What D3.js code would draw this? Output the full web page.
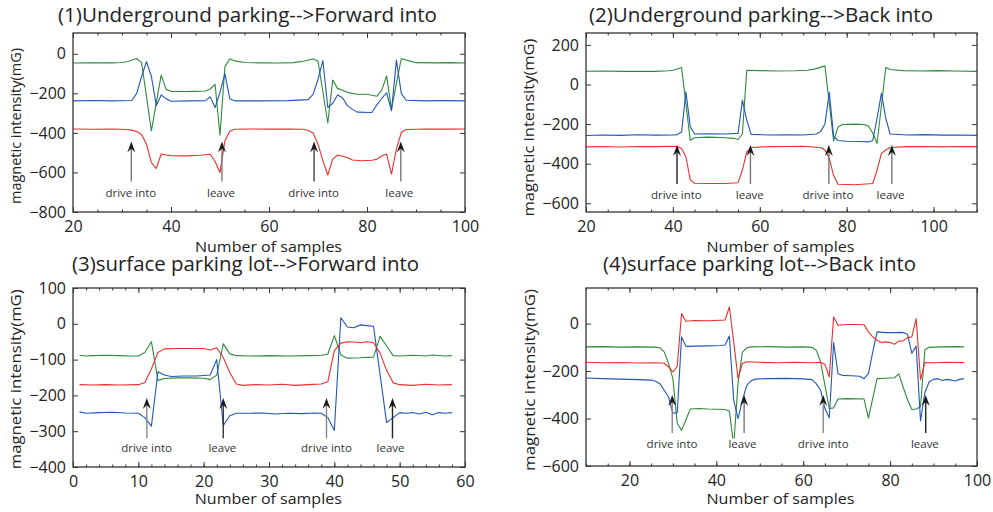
<!DOCTYPE html>
<html>
<head>
<meta charset="utf-8">
<script src="https://cdn.jsdelivr.net/npm/d3@7"></script>
<style>
body { margin: 0; background: #fff; }
text { font-family: "Open Sans", "Noto Sans", sans-serif; fill: #222; }
</style>
</head>
<body>
<div id="viz"></div>
<script>

// ---- data (sample index, magnetic intensity in mG) ----

// (1) underground, forward into
var p1Green = [[20,-47],[24,-46],[28,-46],[30,-44],[31,-40],[32,-33],[33,-24],[34,-45],[36,-390],[37,-247],[38,-108],[39,-180],[40,-190],[43,-191],[45,-190],[47,-188],[48,-178],[49,-155],[50,-412],[51,-65],[52,-25],[53,-36],[55,-44],[58,-46],[62,-47],[65,-45],[67,-38],[69,-26],[70,-37],[72,-350],[73,-133],[74,-175],[76,-195],[78,-205],[80,-205],[82,-215],[83,-185],[84,-112],[85,-280],[86,-150],[87,-24],[88,-32],[90,-45],[94,-46],[97,-45],[100,-47]];
var p1Blue = [[20,-238],[24,-236],[28,-238],[32,-236],[33,-200],[34,-115],[35,-40],[36,-115],[37,-262],[38,-208],[39,-228],[40,-240],[44,-238],[47,-237],[48,-218],[49,-272],[50,-195],[51,-100],[52,-228],[53,-238],[58,-238],[64,-237],[68,-232],[69,-205],[70,-130],[71,-35],[72,-272],[73,-250],[74,-208],[75,-222],[76,-262],[77,-280],[78,-295],[81,-297],[82,-258],[83,-226],[84,-197],[85,-288],[86,-32],[87,-200],[88,-235],[92,-238],[96,-237],[100,-238]];
var p1Red = [[20,-380],[24,-382],[28,-380],[31,-383],[32,-386],[33,-393],[34,-408],[35,-457],[36,-550],[37,-580],[38,-507],[39,-512],[40,-515],[43,-516],[46,-513],[48,-508],[49,-545],[50,-600],[51,-440],[52,-392],[53,-382],[56,-380],[60,-381],[64,-380],[67,-382],[68,-388],[69,-400],[70,-457],[71,-540],[72,-613],[73,-533],[74,-512],[76,-524],[77,-537],[79,-541],[81,-538],[82,-533],[83,-517],[84,-507],[85,-608],[86,-482],[87,-398],[88,-383],[92,-380],[96,-381],[100,-380]];
var p1ArrowX = [31.9, 50.4, 69.2, 86.9];
var p1LabelX = [31.8, 50.2, 69.1, 86.6];

// (2) underground, back into
var p2Green = [[20,67],[24,68],[28,66],[32,67],[36,66],[39,69],[40,72],[41,78],[42,86],[44,-282],[45,-269],[48,-266],[51,-268],[54,-272],[55,-278],[56,-250],[57,72],[60,70],[64,68],[68,69],[71,72],[73,80],[75,94],[77,-285],[78,-215],[79,-202],[82,-200],[84,-202],[85,-210],[86,-245],[87,-298],[89,86],[90,76],[93,70],[97,68],[101,70],[105,68],[110,66]];
var p2Blue = [[20,-258],[24,-255],[28,-257],[32,-254],[36,-256],[40,-255],[41,-253],[42,-240],[43,-37],[44,-213],[45,-250],[48,-249],[52,-250],[55,-247],[56,-79],[57,-180],[58,-252],[62,-255],[66,-254],[70,-255],[73,-250],[74,-238],[75,-200],[76,-40],[77,-262],[78,-283],[80,-287],[83,-288],[85,-290],[86,-283],[87,-170],[88,-45],[89,-170],[90,-250],[94,-255],[98,-253],[102,-256],[106,-255],[110,-257]];
var p2Red = [[20,-315],[24,-313],[28,-316],[32,-313],[36,-314],[40,-312],[41,-313],[42,-323],[43,-365],[44,-482],[45,-499],[48,-500],[52,-500],[55,-496],[56,-432],[57,-340],[58,-318],[62,-314],[66,-313],[70,-312],[74,-318],[75,-331],[76,-373],[77,-460],[78,-504],[82,-506],[86,-500],[87,-432],[88,-348],[89,-331],[90,-318],[94,-314],[98,-313],[102,-315],[106,-313],[110,-314]];
var p2ArrowX = [40.95, 57.85, 75.9, 90.4];
var p2LabelX = [40.8, 57.7, 75.7, 90.1];

// (3) surface lot, forward into
var p3Green = [[1,-88],[2,-90],[3,-89],[5,-88],[7,-89],[9,-90],[10,-90],[11,-80],[12,-50],[13,-158],[14,-153],[16,-151],[18,-151],[20,-152],[21,-156],[22,-143],[23,-56],[24,-84],[25,-89],[27,-90],[30,-89],[33,-90],[36,-89],[38,-88],[39,-85],[40,-33],[41,-87],[42,-96],[44,-95],[46,-93],[47,-35],[48,-62],[49,-89],[50,-90],[52,-88],[54,-90],[55,-87],[57,-90],[58,-89]];
var p3Blue = [[1,-246],[2,-250],[4,-248],[6,-247],[8,-249],[10,-250],[11,-262],[12,-286],[13,-134],[14,-143],[15,-147],[17,-146],[19,-146],[21,-143],[22,-100],[23,-284],[24,-257],[25,-250],[27,-250],[29,-249],[31,-252],[33,-250],[35,-251],[37,-249],[38,-250],[39,-262],[40,-298],[41,17],[42,-9],[43,-11],[44,-3],[45,-5],[46,-7],[48,-276],[49,-262],[50,-248],[51,-250],[52,-248],[53,-252],[54,-247],[55,-254],[56,-248],[57,-250],[58,-248]];
var p3Red = [[1,-170],[3,-171],[5,-170],[7,-171],[10,-170],[11,-164],[12,-126],[13,-80],[14,-70],[16,-69],[18,-69],[20,-69],[21,-73],[22,-67],[23,-94],[24,-136],[25,-168],[26,-172],[28,-170],[30,-171],[32,-169],[34,-172],[36,-170],[38,-168],[39,-162],[40,-75],[41,-54],[42,-50],[43,-51],[44,-53],[45,-50],[46,-53],[47,-82],[48,-130],[49,-165],[50,-170],[52,-172],[54,-169],[56,-171],[58,-170]];
var p3ArrowX = [11.3, 23.0, 38.8, 48.9];
var p3LabelX = [11.26, 22.86, 38.8, 48.6];

// (4) surface lot, back into
var p4Green = [[10,-98],[14,-97],[18,-99],[22,-98],[26,-99],[27,-102],[28,-119],[29,-168],[30,-232],[31,-420],[32,-450],[33,-405],[34,-360],[36,-358],[38,-360],[40,-361],[42,-362],[43,-368],[44,-515],[45,-250],[46,-120],[47,-102],[48,-98],[52,-97],[56,-99],[60,-98],[62,-100],[63,-112],[64,-161],[65,-260],[66,-358],[67,-355],[68,-318],[70,-316],[72,-317],[74,-318],[75,-398],[76,-315],[77,-232],[79,-230],[81,-228],[82,-212],[83,-268],[84,-320],[85,-362],[86,-360],[87,-350],[88,-110],[89,-100],[92,-98],[95,-97],[97,-98]];
var p4Blue = [[10,-229],[14,-232],[18,-234],[22,-236],[25,-238],[26,-243],[27,-253],[28,-281],[29,-309],[30,-378],[31,-375],[32,-56],[33,-96],[35,-95],[38,-94],[41,-92],[42,-90],[43,-52],[44,-323],[45,-400],[46,-323],[47,-260],[48,-241],[49,-234],[52,-232],[56,-231],[60,-233],[62,-236],[63,-253],[64,-281],[65,-358],[66,-397],[67,-80],[68,-211],[69,-218],[71,-220],[73,-222],[74,-232],[75,-211],[76,-120],[77,-35],[79,-38],[81,-38],[83,-37],[84,-45],[85,-125],[86,-95],[87,-410],[88,-290],[89,-245],[90,-235],[91,-232],[92,-240],[93,-235],[94,-238],[95,-242],[96,-235],[97,-232]];
var p4Red = [[10,-163],[14,-165],[18,-164],[22,-166],[26,-165],[28,-167],[29,-182],[30,-204],[31,-180],[32,42],[33,10],[35,13],[38,12],[41,14],[42,15],[43,70],[44,-77],[45,-232],[46,-168],[47,-161],[50,-163],[54,-165],[58,-163],[62,-165],[64,-163],[65,-172],[66,-225],[67,28],[68,-7],[70,-4],[72,-4],[74,-5],[75,-35],[76,-56],[77,-70],[78,-80],[79,-77],[80,-80],[81,-87],[82,-74],[83,-73],[84,-59],[85,-56],[86,21],[87,-236],[88,-164],[90,-165],[93,-163],[97,-164]];
var p4ArrowX = [29.85, 46.4, 64.6, 88.2];
var p4LabelX = [29.8, 46.0, 64.6, 88.0];

var eventLabels = ["drive into", "leave", "drive into", "leave"];

var p1XTicks = [20, 40, 60, 80, 100];
var p1YTicks = [-800, -600, -400, -200, 0];
var p2XTicks = [20, 40, 60, 80, 100];
var p2YTicks = [-600, -400, -200, 0, 200];
var p3XTicks = [0, 10, 20, 30, 40, 50, 60];
var p3YTicks = [-400, -300, -200, -100, 0, 100];
var p4XTicks = [20, 40, 60, 80, 100];
var p4YTicks = [-600, -400, -200, 0];

// ---- layout ----
var colors = { blue: "#2156b8", green: "#2f8a3c", red: "#e8302c" };

var panels = [
	{ title: "(1)Underground parking-->Forward into", titleX: 58, titleY: 22, titleW: 379,
	  box: { l: 73, r: 465, t: 33, b: 212 }, xDomain: [20, 100], yDomain: [-800, 105],
	  xTicks: p1XTicks, yTicks: p1YTicks, minorStep: 5,
	  green: p1Green, blue: p1Blue, red: p1Red,
	  arrowX: p1ArrowX, labelX: p1LabelX, tip: -443, tail: -646, labelY: -722,
	  shaft: ["#777", "#777", "#444", "#777"],
	  xlab: { x: 268.5, y: 251, w: 147 }, ylab: { x: 21, y: 126, w: 156 } },
	{ title: "(2)Underground parking-->Back into", titleX: 589, titleY: 22, titleW: 344,
	  box: { l: 586, r: 977, t: 33, b: 212 }, xDomain: [20, 110], yDomain: [-644, 260],
	  xTicks: p2XTicks, yTicks: p2YTicks, minorStep: 5,
	  green: p2Green, blue: p2Blue, red: p2Red,
	  arrowX: p2ArrowX, labelX: p2LabelX, tip: -305, tail: -502, labelY: -578,
	  shaft: ["#222", "#777", "#777", "#777"],
	  xlab: { x: 780.5, y: 251, w: 148 }, ylab: { x: 534, y: 127.5, w: 178 } },
	{ title: "(3)surface parking lot-->Forward into", titleX: 72, titleY: 271, titleW: 347,
	  box: { l: 73, r: 465, t: 288, b: 467 }, xDomain: [0, 60], yDomain: [-400, 100],
	  xTicks: p3XTicks, yTicks: p3YTicks, minorStep: 2,
	  green: p3Green, blue: p3Blue, red: p3Red,
	  arrowX: p3ArrowX, labelX: p3LabelX, tip: -207, tail: -320, labelY: -358,
	  shaft: ["#888", "#333", "#888", "#222"],
	  xlab: { x: 268.3, y: 503, w: 147 }, ylab: { x: 21, y: 379.3, w: 180 } },
	{ title: "(4)surface parking lot-->Back into", titleX: 603, titleY: 271, titleW: 313,
	  box: { l: 586, r: 977, t: 288, b: 466 }, xDomain: [10, 100], yDomain: [-600, 150],
	  xTicks: p4XTicks, yTicks: p4YTicks, minorStep: 5,
	  green: p4Green, blue: p4Blue, red: p4Red,
	  arrowX: p4ArrowX, labelX: p4LabelX, tip: -301, tail: -461, labelY: -526,
	  shaft: ["#888", "#777", "#888", "#222"],
	  xlab: { x: 780.5, y: 503, w: 148 }, ylab: { x: 534.5, y: 380, w: 182 } }
];

var svg = d3.select("#viz")
	.append("svg")
	.attr("width", 993)
	.attr("height", 512);

svg.append("rect").attr("width", 993).attr("height", 512).attr("fill", "#fff");

var fmt = function(d) { return d < 0 ? "\u2212" + Math.abs(d) : "" + d };

panels.forEach(function(p, pi) {
	var b = p.box;
	var x = d3.scaleLinear().domain(p.xDomain).range([b.l, b.r]);
	var y = d3.scaleLinear().domain(p.yDomain).range([b.b, b.t]);
	var g = svg.append("g");

	g.append("clipPath").attr("id", "clip" + pi)
		.append("rect")
		.attr("x", b.l).attr("y", b.t)
		.attr("width", b.r - b.l).attr("height", b.b - b.t);

	var line = d3.line()
		.x(function(d) { return x(d[0]) })
		.y(function(d) { return y(d[1]) });

	var plot = g.append("g").attr("clip-path", "url(#clip" + pi + ")");
	[["green", p.green], ["blue", p.blue], ["red", p.red]].forEach(function(s) {
		plot.append("path")
			.datum(s[1])
			.attr("d", line)
			.attr("fill", "none")
			.attr("stroke", colors[s[0]])
			.attr("stroke-width", 1.1)
			.attr("stroke-linejoin", "round");
	});

	// event labels, tight white box behind (matlab text background)
	var lab = plot.selectAll(".evlabel")
		.data(eventLabels).enter()
		.append("text")
		.attr("class", "evlabel")
		.attr("x", function(d, i) { return x(p.labelX[i]) })
		.attr("y", y(p.labelY))
		.attr("text-anchor", "middle")
		.style("font-size", "11.5px")
		.style("fill", "#333")
		.text(function(d) { return d });
	lab.each(function() {
		var bb = this.getBBox();
		var base = y(p.labelY);
		plot.insert("rect", ".evlabel")
			.attr("x", bb.x - 1).attr("y", base - 10)
			.attr("width", bb.width + 2).attr("height", 13)
			.attr("fill", "#fff");
	});

	// arrows
	p.arrowX.forEach(function(ax, i) {
		var px = x(ax), ty = y(p.tip), by = y(p.tail);
		g.append("line")
			.attr("x1", px).attr("x2", px)
			.attr("y1", by).attr("y2", ty + 6)
			.attr("stroke", p.shaft[i])
			.attr("stroke-width", 1.4);
		g.append("path")
			.attr("d", "M" + px + "," + ty + "L" + (px - 4) + "," + (ty + 11) +
				"L" + px + "," + (ty + 7) + "L" + (px + 4) + "," + (ty + 11) + "Z")
			.attr("fill", "#1a1a1a");
	});

	// axes, ticks pointing inward on all sides
	var minor = d3.range(p.xDomain[0], p.xDomain[1] + 0.001, p.minorStep);
	var axisStyle = function(sel) {
		sel.selectAll("path,line").attr("stroke", "#333");
		sel.selectAll("text").style("font-size", "16px").style("fill", "#222")
			.style("font-family", "\"Open Sans\", sans-serif");
	};

	g.append("g").attr("transform", "translate(0," + b.b + ")")
		.call(d3.axisBottom(x).tickValues(minor).tickSize(-2.5).tickSizeOuter(0).tickFormat(""))
		.call(axisStyle).select(".domain").remove();
	g.append("g").attr("transform", "translate(0," + b.t + ")")
		.call(d3.axisTop(x).tickValues(minor).tickSize(-2.5).tickSizeOuter(0).tickFormat(""))
		.call(axisStyle).select(".domain").remove();
	g.append("g").attr("transform", "translate(0," + b.b + ")")
		.call(d3.axisBottom(x).tickValues(p.xTicks).tickSize(-5).tickSizeOuter(0).tickPadding(9).tickFormat(fmt))
		.call(axisStyle).select(".domain").remove();
	g.append("g").attr("transform", "translate(0," + b.t + ")")
		.call(d3.axisTop(x).tickValues(p.xTicks).tickSize(-5).tickSizeOuter(0).tickFormat(""))
		.call(axisStyle).select(".domain").remove();
	g.append("g").attr("transform", "translate(" + b.l + ",0)")
		.call(d3.axisLeft(y).tickValues(p.yTicks).tickSize(-5).tickSizeOuter(0).tickPadding(7).tickFormat(fmt))
		.call(axisStyle).select(".domain").remove();
	g.append("g").attr("transform", "translate(" + b.r + ",0)")
		.call(d3.axisRight(y).tickValues(p.yTicks).tickSize(-5).tickSizeOuter(0).tickFormat(""))
		.call(axisStyle).select(".domain").remove();

	g.append("rect")
		.attr("x", b.l).attr("y", b.t)
		.attr("width", b.r - b.l).attr("height", b.b - b.t)
		.attr("fill", "none")
		.attr("stroke", "#333")
		.attr("stroke-width", 1.3);

	// titles
	g.append("text")
		.attr("x", p.titleX).attr("y", p.titleY)
		.attr("textLength", p.titleW).attr("lengthAdjust", "spacingAndGlyphs")
		.style("font-size", "20px")
		.text(p.title);

	g.append("text")
		.attr("x", p.xlab.x).attr("y", p.xlab.y + 0.5)
		.attr("text-anchor", "middle")
		.attr("textLength", p.xlab.w).attr("lengthAdjust", "spacingAndGlyphs")
		.style("font-size", "15px")
		.text("Number of samples");

	g.append("text")
		.attr("transform", "translate(" + p.ylab.x + "," + p.ylab.y + ") rotate(-90)")
		.attr("text-anchor", "middle")
		.attr("textLength", p.ylab.w).attr("lengthAdjust", "spacingAndGlyphs")
		.style("font-size", "14px")
		.text("magnetic intensity(mG)");
});

</script>
</body>
</html>
